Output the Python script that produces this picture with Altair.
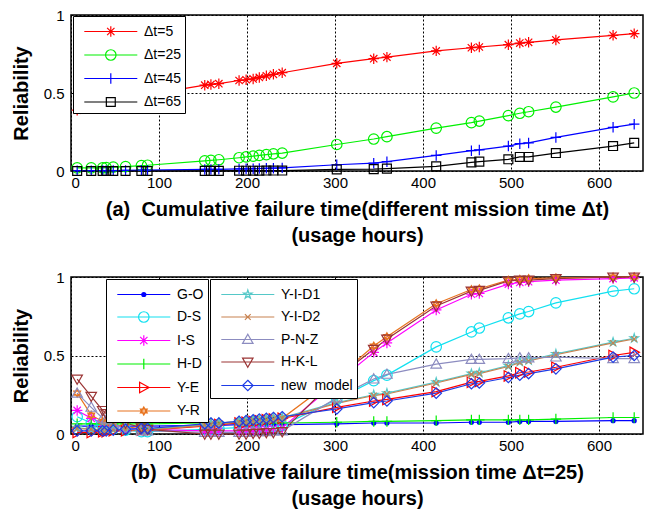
import math
import altair as alt
import pandas as pd

# ---------------- data ----------------
x_hours = [7, 23, 36, 40, 48, 62, 80, 87, 152, 159, 168, 191, 199, 207, 214, 222,
           230, 240, 302, 344, 359, 415, 455, 464, 497, 510, 520, 551, 616, 640]

top_names = ["Δt=5", "Δt=25", "Δt=45", "Δt=65"]
top_colors = ["#ff0000", "#00f000", "#0000ff", "#000000"]
top_markers = ["asterisk", "circle", "plus", "square"]
dt5 = [0.39, 0.41, 0.43, 0.435, 0.45, 0.46, 0.48, 0.49, 0.55, 0.555, 0.56, 0.58, 0.585, 0.59,
       0.60, 0.61, 0.62, 0.63, 0.69, 0.72, 0.73, 0.77, 0.79, 0.795, 0.81, 0.82, 0.825, 0.84,
       0.87, 0.88]
dt25 = [0.02, 0.02, 0.02, 0.022, 0.025, 0.028, 0.035, 0.037, 0.065, 0.068, 0.072, 0.085,
        0.09, 0.095, 0.10, 0.105, 0.11, 0.115, 0.17, 0.205, 0.22, 0.275, 0.31, 0.32, 0.355,
        0.37, 0.38, 0.41, 0.475, 0.50]
dt45 = [0.002, 0.002, 0.003, 0.003, 0.003, 0.004, 0.005, 0.005, 0.01, 0.01, 0.011, 0.013,
        0.014, 0.015, 0.016, 0.017, 0.018, 0.02, 0.04, 0.05, 0.06, 0.10, 0.13, 0.135, 0.16,
        0.175, 0.18, 0.215, 0.28, 0.30]
dt65 = [0.0, 0.0, 0.0, 0.0, 0.0, 0.0, 0.0, 0.0, 0.001, 0.001, 0.001, 0.002, 0.002, 0.002,
        0.002, 0.003, 0.003, 0.003, 0.01, 0.012, 0.015, 0.03, 0.055, 0.06, 0.075, 0.09, 0.09,
        0.115, 0.16, 0.18]
top_values = [dt5, dt25, dt45, dt65]

bot_names = ["G-O", "D-S", "I-S", "H-D", "Y-E", "Y-R",
             "Y-I-D1", "Y-I-D2", "P-N-Z", "H-K-L", "new\u00a0 model"]
bot_colors = ["#0000ff", "#12e0f0", "#ff00ff", "#00f000", "#ff0000", "#e8731e",
              "#55c8c8", "#c88250", "#8c8cc0", "#9b3535", "#1e3ce6"]
bot_markers = ["dot", "circle", "asterisk", "plus", "triright", "hexagram",
               "pentagram", "xmark", "triup", "tridown", "diamond"]
go = [0.05, 0.05, 0.05, 0.05, 0.05, 0.05, 0.05, 0.05, 0.055, 0.055, 0.055, 0.06, 0.06, 0.06,
      0.06, 0.06, 0.06, 0.06, 0.065, 0.07, 0.07, 0.07, 0.075, 0.075, 0.075, 0.08, 0.08, 0.08,
      0.085, 0.085]
ds = [0.11, 0.07, 0.05, 0.045, 0.035, 0.025, 0.015, 0.015, 0.03, 0.03, 0.035, 0.04, 0.04,
      0.045, 0.045, 0.05, 0.05, 0.055, 0.22, 0.34, 0.375, 0.555, 0.65, 0.675, 0.74, 0.765,
      0.78, 0.835, 0.91, 0.925]
is_ = [0.15, 0.10, 0.07, 0.06, 0.05, 0.04, 0.03, 0.03, 0.02, 0.02, 0.02, 0.02, 0.025, 0.025,
       0.03, 0.03, 0.035, 0.04, 0.33, 0.52, 0.58, 0.79, 0.89, 0.895, 0.955, 0.965, 0.97, 0.98,
       0.99, 0.995]
hd = [0.065, 0.065, 0.065, 0.065, 0.065, 0.065, 0.065, 0.065, 0.07, 0.07, 0.07, 0.07, 0.07,
      0.07, 0.07, 0.07, 0.07, 0.07, 0.075, 0.08, 0.08, 0.085, 0.09, 0.09, 0.09, 0.09, 0.09,
      0.095, 0.105, 0.105]
ye = [0.01, 0.01, 0.015, 0.015, 0.02, 0.02, 0.025, 0.025, 0.05, 0.055, 0.06, 0.07, 0.075,
      0.08, 0.085, 0.09, 0.095, 0.10, 0.17, 0.21, 0.22, 0.27, 0.33, 0.335, 0.37, 0.39, 0.395,
      0.425, 0.50, 0.52]
yr = [0.26, 0.12, 0.08, 0.07, 0.06, 0.045, 0.035, 0.035, 0.06, 0.065, 0.07, 0.08, 0.085,
      0.09, 0.09, 0.095, 0.10, 0.10, 0.36, 0.56, 0.62, 0.83, 0.92, 0.925, 0.98, 0.985, 0.99,
      0.995, 1.0, 1.0]
yid1 = [0.04, 0.03, 0.03, 0.03, 0.03, 0.03, 0.03, 0.03, 0.06, 0.065, 0.07, 0.08, 0.085, 0.09,
        0.09, 0.095, 0.10, 0.105, 0.20, 0.25, 0.26, 0.33, 0.385, 0.39, 0.435, 0.46, 0.47,
        0.51, 0.585, 0.61]
yid2 = [0.035, 0.03, 0.025, 0.025, 0.025, 0.025, 0.025, 0.025, 0.055, 0.06, 0.065, 0.075,
        0.08, 0.085, 0.09, 0.09, 0.095, 0.10, 0.195, 0.245, 0.255, 0.325, 0.38, 0.385, 0.43,
        0.455, 0.465, 0.505, 0.58, 0.605]
pnz = [0.26, 0.17, 0.10, 0.09, 0.06, 0.04, 0.02, 0.02, 0.01, 0.01, 0.01, 0.01, 0.01, 0.015,
       0.015, 0.015, 0.02, 0.02, 0.23, 0.35, 0.38, 0.445, 0.475, 0.475, 0.48, 0.485, 0.485,
       0.49, 0.48, 0.48]
hkl = [0.35, 0.24, 0.15, 0.13, 0.10, 0.07, 0.04, 0.03, 0.0, 0.0, 0.0, 0.0, 0.0, 0.005, 0.005,
       0.01, 0.01, 0.015, 0.36, 0.54, 0.605, 0.815, 0.91, 0.915, 0.975, 0.98, 0.98, 0.99, 1.0,
       1.0]
newm = [0.02, 0.02, 0.02, 0.02, 0.025, 0.03, 0.035, 0.035, 0.065, 0.07, 0.07, 0.08, 0.085,
        0.09, 0.095, 0.10, 0.105, 0.11, 0.16, 0.20, 0.21, 0.26, 0.32, 0.325, 0.36, 0.375,
        0.385, 0.415, 0.49, 0.50]
bot_values = [go, ds, is_, hd, ye, yr, yid1, yid2, pnz, hkl, newm]

x_ticks = [0, 100, 200, 300, 400, 500, 600]
y_ticks = [0, 0.5, 1]

# ---------------- marker paths ----------------
def _poly(pts, s, dx=0.0, closed=True):
    d = "M" + "L".join(f"{px * s + dx:.4f},{py * s:.4f}" for px, py in pts)
    return d + ("Z" if closed else "")

def _circ(r, dx=0.0):
    return (f"M{r + dx:.4f},0A{r:.4f},{r:.4f} 0 1,1 {-r + dx:.4f},0"
            f"A{r:.4f},{r:.4f} 0 1,1 {r + dx:.4f},0Z")

def marker(kind, s, dx=0.0):
    if kind == "asterisk":
        return "".join(_poly(p, s, dx, False) for p in [[(-1, 0), (1, 0)], [(0, -1), (0, 1)],
                                                        [(-.7, -.7), (.7, .7)], [(-.7, .7), (.7, -.7)]])
    if kind == "plus":
        return "".join(_poly(p, s, dx, False) for p in [[(-1, 0), (1, 0)], [(0, -1), (0, 1)]])
    if kind == "xmark":
        return "".join(_poly(p, s, dx, False) for p in [[(-.55, -.55), (.55, .55)], [(-.55, .55), (.55, -.55)]])
    if kind == "circle":
        return _circ(s, dx)
    if kind == "dot":
        return _circ(0.38 * s, dx) + _circ(0.22 * s, dx) + _circ(0.07 * s, dx)
    if kind == "square":
        return _poly([(-.85, -.85), (.85, -.85), (.85, .85), (-.85, .85)], s, dx)
    if kind == "triright":
        return _poly([(-.8, -1), (1, 0), (-.8, 1)], s, dx)
    if kind == "triup":
        return _poly([(0, -1), (1, .75), (-1, .75)], s, dx)
    if kind == "tridown":
        return _poly([(0, 1), (1, -.75), (-1, -.75)], s, dx)
    if kind == "diamond":
        return _poly([(0, -1), (1, 0), (0, 1), (-1, 0)], s, dx)
    if kind == "hexagram":
        k = 0.75
        return (_poly([(0, -k), (.866 * k, .5 * k), (-.866 * k, .5 * k)], s, dx)
                + _poly([(0, k), (.866 * k, -.5 * k), (-.866 * k, -.5 * k)], s, dx))
    if kind == "pentagram":
        k = 0.85
        pts = [(0, -1), (.223, -.307), (.951, -.309), (.361, .117), (.588, .809), (0, .38),
               (-.588, .809), (-.361, .117), (-.951, -.309), (-.223, -.307)]
        return _poly([(a * k, b * k) for a, b in pts], s, dx)
    raise ValueError(kind)

POINT_SIZE = 110
MARK_R = POINT_SIZE ** 0.5 / 2           # marker half size in px
LEG_PAD = 4
LEG_SIDE = 21.2                          # nominal legend symbol side
LEG_SIZE = LEG_SIDE ** 2
UNIT = LEG_SIDE / 2                      # px per path unit in legend
CENTER_PX = (LEG_SIDE + 1.2) / 2         # where vega puts the symbol centre
LINE_START = 7                           # extra gap before the legend line
LINE_PX = 53                             # legend line length in px

def legend_path(kind):
    x0 = (LINE_START - CENTER_PX) / UNIT
    x1 = (LINE_START + LINE_PX - CENTER_PX) / UNIT
    xm = (x0 + x1) / 2
    return f"M{x0:.4f},0H{x1:.4f}" + marker(kind, MARK_R / UNIT, xm)

LABEL_OFFSET = LINE_START + LINE_PX + 7 - math.ceil(LEG_SIDE + 1.2)

FONT = "Liberation Sans"

def long_df(names, values):
    rows = []
    for n, vals in zip(names, values):
        for xv, yv in zip(x_hours, vals):
            rows.append({"x": xv, "y": yv, "series": n})
    return pd.DataFrame(rows)

def panel(names, colors, markers, values, xtitle, groups, height):
    df = long_df(names, values)
    xe = alt.X("x:Q", scale=alt.Scale(domain=[0, 650], nice=False),
               axis=alt.Axis(values=x_ticks, title=xtitle))
    ye_ = alt.Y("y:Q", scale=alt.Scale(domain=[0, 1], nice=False),
                axis=alt.Axis(values=y_ticks, title="Reliability", format="~g"))
    base = alt.Chart(df)
    lines = base.mark_line(strokeWidth=1.2).encode(
        x=xe, y=ye_,
        color=alt.Color("series:N", scale=alt.Scale(domain=names, range=colors), legend=None),
    )
    pts = base.mark_point(filled=False, size=POINT_SIZE, strokeWidth=1.2, opacity=1).encode(
        x=xe, y=ye_,
        color=alt.Color("series:N", scale=alt.Scale(domain=names, range=colors), legend=None),
        shape=alt.Shape("series:N", scale=alt.Scale(domain=names,
                                                    range=[marker(m, 1) for m in markers]),
                        legend=None),
    )
    layers = [lines, pts]
    for (i0, i1, lx, ly) in groups:
        g_names = names[i0:i1]
        g_colors = colors[i0:i1]
        g_paths = [legend_path(m) for m in markers[i0:i1]]
        leg = dict(orient="none", legendX=lx, legendY=ly, title=None,
                   strokeColor="black", fillColor="white", padding=LEG_PAD,
                   cornerRadius=0, labelFontSize=14, labelFont=FONT, labelColor="black",
                   labelAlign="left",
                   symbolSize=LEG_SIZE, symbolStrokeWidth=1.2, symbolOpacity=1,
                   labelOffset=LABEL_OFFSET, rowPadding=3.5, labelLimit=200)
        lg = base.transform_filter("false").mark_point(
            filled=False, strokeWidth=1.2, opacity=1).encode(
            x=xe, y=ye_,
            color=alt.Color("series:N", scale=alt.Scale(domain=g_names, range=g_colors),
                            legend=alt.Legend(**leg)),
            shape=alt.Shape("series:N", scale=alt.Scale(domain=g_names, range=g_paths),
                            legend=alt.Legend(**leg)),
        )
        layers.append(lg)
    return alt.layer(*layers).resolve_scale(color="independent", shape="independent") \
        .properties(width=572, height=height)

top = panel(top_names, top_colors, top_markers, top_values,
            ["(a)\u00a0 Cumulative failure time(different mission time Δt)", "(usage hours)"],
            [(0, 4, 2, 1)], 156)
bottom = panel(bot_names, bot_colors, bot_markers, bot_values,
               ["(b)\u00a0 Cumulative failure time(mission time Δt=25)", "(usage hours)"],
               [(0, 6, 35, 2), (6, 11, 139, 2)], 157)

chart = alt.vconcat(top, bottom, spacing=106, bounds="flush").properties(
    padding={"left": 10, "top": 7, "right": 5, "bottom": 5},
    background="white",
).configure_view(stroke="black", strokeWidth=1.5).configure_axis(
    labelFont=FONT, labelFontSize=15, labelColor="black",
    titleFont=FONT, titleFontSize=20, titleFontWeight="bold", titleColor="black",
    domain=False, ticks=False, labelPadding=6,
    grid=True, gridColor="black", gridDash=[2, 2], gridWidth=1, gridOpacity=1,
    titleLineHeight=26,
).configure_axisX(titlePadding=9, labelPadding=4).configure_axisY(
    titlePadding=12, labelPadding=7
)

chart.save("out.html", embed_options={"renderer": "svg", "actions": False})
